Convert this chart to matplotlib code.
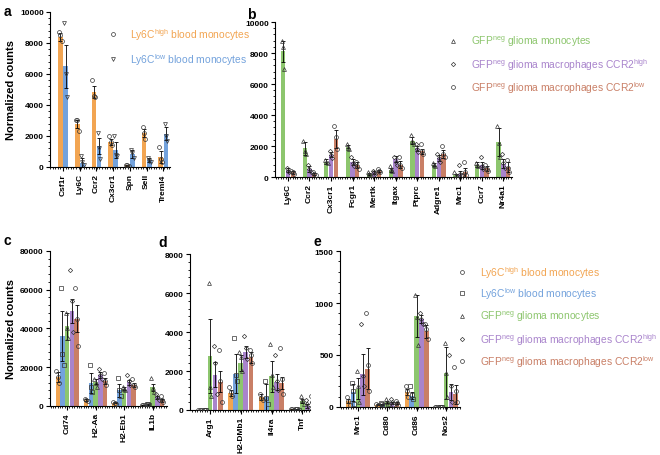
import numpy as np
import matplotlib
matplotlib.use("Agg")
import matplotlib.pyplot as plt
from matplotlib.ticker import AutoMinorLocator, MultipleLocator

plt.rcParams['font.family'] = ['Liberation Sans', 'DejaVu Sans']
plt.rcParams['mathtext.fontset'] = 'custom'
plt.rcParams['mathtext.rm'] = 'Liberation Sans'

# colours of the five populations
c_high = '#F2A552'
c_low = '#73A2DC'
c_mono = '#8DC66E'
c_mhigh = '#A984CC'
c_mlow = '#C97F66'

# ---- panel a: blood monocytes ----
genes_a = ['Csf1r', 'Ly6C', 'Ccr2', 'Cx3cr1', 'Spn', 'Sell', 'Treml4']
a_high = [8400, 2750, 4850, 1600, 100, 2200, 650]
a_high_err = [250, 250, 400, 200, 40, 250, 400]
a_high_pts = [[8700, 8500, 8100], [3000, 3000, 2300], [5600, 4600, 4500], [2000, 1600, 1400],
              [150, 100, 50], [2600, 2200, 1800], [1300, 500, 300]]
a_low = [6500, 250, 1350, 1100, 850, 450, 2150]
a_low_err = [1400, 300, 500, 500, 250, 150, 400]
a_low_pts = [[9300, 6000, 4500], [700, 300, 100], [2200, 1200, 500], [2000, 800, 700],
             [1100, 900, 600], [600, 400, 350], [2800, 2000, 1700]]

# ---- panel b: glioma populations ----
genes_b = ['Ly6C', 'Ccr2', 'Cx3cr1', 'Fcgr1', 'Mertk', 'Itgax', 'Ptprc', 'Adgre1', 'Mrc1', 'Ccr7', 'Nr4a1']
b_mono = [8100, 1850, 1000, 1950, 200, 450, 2350, 800, 100, 800, 2250]
b_mono_err = [700, 400, 150, 100, 60, 100, 200, 100, 80, 150, 900]
b_mono_pts = [[8800, 8400, 7000], [2300, 1700, 1500], [1100, 1000, 900], [2100, 1900, 1800],
              [300, 200, 100], [700, 500, 400], [2700, 2300, 2100], [900, 800, 700],
              [300, 100, 50], [900, 800, 700], [3300, 2200, 1300]]
b_mhigh = [450, 500, 1450, 950, 300, 1150, 1850, 1250, 200, 750, 850]
b_mhigh_err = [100, 200, 150, 200, 80, 200, 150, 200, 200, 250, 300]
b_mhigh_pts = [[600, 400, 300], [800, 500, 300], [1700, 1400, 1200], [1300, 900, 700],
               [400, 300, 200], [1300, 1000, 800], [2100, 1800, 1600], [1500, 1200, 1000],
               [800, 200, 100], [1300, 700, 500], [1500, 900, 600]]
b_mlow = [300, 200, 2450, 750, 400, 800, 1650, 1500, 300, 550, 650]
b_mlow_err = [80, 50, 600, 200, 80, 250, 150, 250, 300, 150, 300]
b_mlow_pts = [[400, 300, 200], [300, 200, 100], [3300, 2600, 1800], [1000, 700, 500],
              [500, 400, 300], [1300, 800, 600], [2100, 1700, 1500], [2000, 1500, 1300],
              [1000, 300, 100], [800, 500, 400], [1100, 600, 300]]

# ---- panels c-e: all five populations ----
genes_c = ['Cd74', 'H2-Aa', 'H2-Eb1', 'IL1b']
c_vals = [[15000, 3000, 1600, 500],
          [36000, 11800, 8000, 700],
          [41200, 12500, 9000, 9600],
          [49000, 15900, 12200, 4600],
          [45000, 12900, 11000, 2900]]
c_err = [[2500, 500, 300, 100], [13000, 5000, 3500, 200], [7000, 1200, 800, 2000],
         [6000, 1500, 1200, 800], [7000, 1500, 1000, 700]]
c_pts = [[[18000, 15000, 12000], [3500, 3000, 2500], [2000, 1500, 1000], [700, 500, 300]],
         [[61000, 27000, 21000], [21000, 10000, 7000], [14500, 8000, 5000], [1000, 800, 600]],
         [[48000, 40000, 35000], [14000, 12000, 10000], [10000, 9000, 8000], [14500, 9500, 7000]],
         [[70000, 54000, 38000], [19000, 16000, 14000], [16000, 13000, 11000], [6000, 4500, 3000]],
         [[61000, 45000, 31000], [17000, 13000, 11000], [14000, 11000, 10000], [5000, 3000, 2000]]]

genes_d = ['Arg1', 'H2-DMb1', 'Il4ra', 'Tnf']
d_vals = [[0, 870, 650, 30],
          [0, 1850, 650, 30],
          [2790, 2400, 1730, 440],
          [1810, 2960, 1450, 220],
          [1450, 2700, 1380, 320]]
d_err = [[0, 150, 150, 10], [0, 1000, 700, 10], [1900, 400, 800, 100],
         [650, 300, 400, 100], [550, 300, 300, 100]]
d_pts = [[[0, 0, 0], [1200, 900, 700], [800, 600, 500], [50, 30, 20]],
         [[0, 0, 0], [3700, 1800, 1500], [1500, 600, 300], [50, 30, 20]],
         [[6500, 1200, 700], [3000, 2700, 2000], [3400, 1800, 1200], [700, 500, 300]],
         [[3300, 2400, 800], [3800, 3200, 2600], [2800, 1500, 1000], [500, 300, 100]],
         [[3100, 1500, 400], [3100, 2800, 2400], [3200, 1600, 800], [700, 400, 200]]]

genes_e = ['Mrc1', 'Cd80', 'Cd86', 'Nos2']
e_vals = [[55, 20, 145, 0],
          [140, 25, 110, 0],
          [175, 45, 875, 330],
          [314, 40, 843, 145],
          [369, 35, 728, 122]]
e_err = [[20, 5, 30, 0], [80, 5, 30, 0], [100, 10, 200, 250],
         [200, 10, 40, 80], [200, 10, 60, 90]]
e_pts = [[[100, 60, 20], [30, 20, 10], [200, 150, 100], [0, 0, 0]],
         [[230, 150, 30], [40, 30, 20], [200, 120, 80], [0, 0, 0]],
         [[350, 200, 50], [80, 50, 30], [1080, 870, 600], [620, 330, 100]],
         [[800, 300, 200], [80, 50, 20], [900, 850, 800], [500, 200, 50]],
         [[900, 400, 150], [60, 40, 20], [800, 750, 650], [380, 150, 50]]]

five_colors = [c_high, c_low, c_mono, c_mhigh, c_mlow]
five_markers = ['o', 's', '^', 'D', 'o']


def grouped(ax, genes, vals, errs, pts, colors, markers, width, step):
    n = len(vals)
    x = np.arange(len(genes))
    for i in range(n):
        xs = x + (i - (n - 1) / 2) * step
        ax.bar(xs, vals[i], width, color=colors[i], zorder=1)
        ax.errorbar(xs, vals[i], yerr=errs[i], fmt='none', ecolor='black',
                    elinewidth=0.6, capsize=1.2, capthick=0.6, zorder=2)
        for j, p in enumerate(pts[i]):
            off = np.array([-0.3, 0.0, 0.3])[:len(p)] * width
            ax.plot(xs[j] + off, p, linestyle='none', marker=markers[i],
                    ms=2.8 if markers[i] != 'D' else 2.2, mfc='none', mec='#333333',
                    mew=0.5, zorder=3)
    ax.set_xticks(x)
    ax.set_xticklabels(genes, rotation=90, fontsize=6.5, fontweight='bold')
    ax.spines['top'].set_visible(False)
    ax.spines['right'].set_visible(False)
    ax.spines['left'].set_linewidth(0.8)
    ax.spines['bottom'].set_linewidth(0.8)
    ax.xaxis.set_minor_locator(MultipleLocator(step / 2))
    ax.yaxis.set_minor_locator(AutoMinorLocator(5))
    ax.tick_params(axis='both', which='major', length=3, width=0.8, labelsize=6, pad=1.5)
    ax.tick_params(axis='both', which='minor', length=1.5, width=0.6)
    for lab in ax.get_yticklabels():
        lab.set_fontweight('bold')


fig = plt.figure(figsize=(6.6, 4.56), dpi=100)

# panel a
ax_a = fig.add_axes([0.0758, 0.6316, 0.1818, 0.3399])
grouped(ax_a, genes_a, [a_high, a_low], [a_high_err, a_low_err], [a_high_pts, a_low_pts],
        [c_high, c_low], ['o', 'v'], 0.28, 0.31)
ax_a.set_xlim(-0.78, 6.4)
ax_a.set_ylim(0, 10000)
ax_a.set_yticks(np.arange(0, 10001, 2000))
ax_a.set_ylabel('Normalized counts', fontsize=8, fontweight='bold', labelpad=3)

# panel b
ax_b = fig.add_axes([0.4167, 0.6096, 0.359, 0.3399])
grouped(ax_b, genes_b, [b_mono, b_mhigh, b_mlow], [b_mono_err, b_mhigh_err, b_mlow_err],
        [b_mono_pts, b_mhigh_pts, b_mlow_pts], [c_mono, c_mhigh, c_mlow],
        ['^', 'D', 'o'], 0.2, 0.22)
ax_b.set_xlim(-0.6, 10.4)
ax_b.set_ylim(0, 10000)
ax_b.set_yticks(np.arange(0, 10001, 2000))

# panel c
ax_c = fig.add_axes([0.0758, 0.1075, 0.177, 0.3399])
grouped(ax_c, genes_c, c_vals, c_err, c_pts, five_colors, five_markers, 0.155, 0.165)
ax_c.set_xlim(-0.6, 3.5)
ax_c.set_ylim(0, 80000)
ax_c.set_yticks(np.arange(0, 80001, 20000))
ax_c.set_ylabel('Normalized counts', fontsize=8, fontweight='bold', labelpad=3)

# panel d
ax_d = fig.add_axes([0.2879, 0.0987, 0.1818, 0.342])
grouped(ax_d, genes_d, d_vals, d_err, d_pts, five_colors, five_markers, 0.155, 0.165)
ax_d.set_xlim(-0.65, 3.25)
ax_d.set_ylim(0, 8000)
ax_d.set_yticks(np.arange(0, 8001, 2000))

# panel e
ax_e = fig.add_axes([0.5152, 0.1053, 0.1818, 0.342])
grouped(ax_e, genes_e, e_vals, e_err, e_pts, five_colors, five_markers, 0.155, 0.165)
ax_e.set_xlim(-0.61, 3.48)
ax_e.set_ylim(0, 1500)
ax_e.set_yticks(np.arange(0, 1501, 500))

# panel letters
for lab, px, py in [('a', 4, 12), ('b', 247, 15), ('c', 4, 241), ('d', 158, 243), ('e', 313, 242)]:
    fig.text(px / 660, 1 - py / 456, lab, fontsize=10, fontweight='bold', va='center')

# legends
names = ['Ly6C$^{\\mathrm{high}}$ blood monocytes',
         'Ly6C$^{\\mathrm{low}}$ blood monocytes',
         'GFP$^{\\mathrm{neg}}$ glioma monocytes',
         'GFP$^{\\mathrm{neg}}$ glioma macrophages CCR2$^{\\mathrm{high}}$',
         'GFP$^{\\mathrm{neg}}$ glioma macrophages CCR2$^{\\mathrm{low}}$']


def legend_rows(rows, mx, tx, ys):
    for (name, col, mk), y in zip(rows, ys):
        fig.lines.append(plt.Line2D([mx / 660], [1 - y / 456], transform=fig.transFigure,
                                    marker=mk, ms=2.8 if mk != 'D' else 2.2, mfc='none',
                                    mec='#333333', mew=0.5, linestyle='none'))
        fig.text(tx / 660, 1 - y / 456, name, color=col, fontsize=7.4, va='center')


legend_rows([(names[0], c_high, 'o'), (names[1], c_low, 'v')], 113, 130, [35, 60])
legend_rows([(names[2], c_mono, '^'), (names[3], c_mhigh, 'D'), (names[4], c_mlow, 'o')],
            453, 471, [42, 65, 88])
legend_rows(list(zip(names, five_colors, five_markers)), 462, 480, [273, 294, 317, 340, 362])

fig.savefig('out.png', dpi=100)
